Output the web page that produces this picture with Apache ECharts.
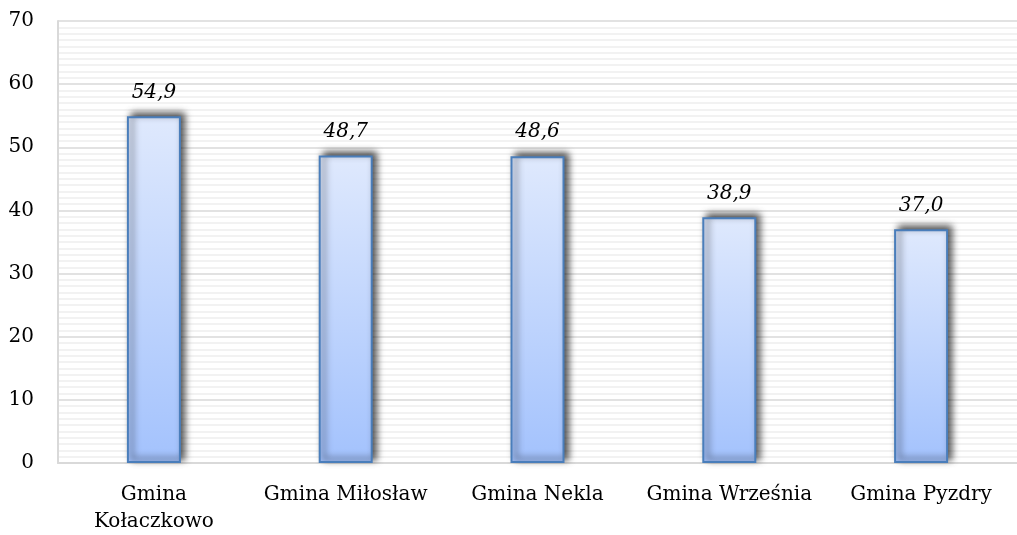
<!DOCTYPE html>
<html>
<head>
<meta charset="utf-8">
<script src="https://cdn.jsdelivr.net/npm/echarts@6/dist/echarts.min.js"></script>
<style>
html,body{margin:0;padding:0;background:#fff;}
#chart{width:1017px;height:535px;}
</style>
</head>
<body>
<div id="chart"></div>
<script>
const categories = ['Gmina\nKołaczkowo', 'Gmina Miłosław', 'Gmina Nekla', 'Gmina Września', 'Gmina Pyzdry'];
const values = [54.9, 48.7, 48.6, 38.9, 37.0];
const yTicks = [0, 10, 20, 30, 40, 50, 60, 70];

const chart = echarts.init(document.getElementById('chart'), null, {renderer: 'canvas'});
const FONT = 'DejaVu Serif';
chart.setOption({
  animation: false,
  backgroundColor: '#ffffff',
  grid: {left: 58, right: -12, top: 21, bottom: 69, containLabel: false},
  xAxis: {
    type: 'category',
    data: categories,
    axisLine: {show: true, lineStyle: {color: '#d9d9d9', width: 2}},
    axisTick: {show: false},
    axisLabel: {fontFamily: FONT, fontSize: 20, color: '#000', margin: 18, lineHeight: 27, interval: 0}
  },
  yAxis: {
    type: 'value',
    min: yTicks[0],
    max: yTicks[yTicks.length - 1],
    interval: 10,
    axisLine: {show: true, lineStyle: {color: '#d9d9d9', width: 2}},
    axisTick: {show: false},
    axisLabel: {fontFamily: FONT, fontSize: 20, color: '#000', margin: 24},
    splitLine: {show: true, lineStyle: {color: '#d9d9d9', width: 1.5}},
    minorTick: {show: false, splitNumber: 10},
    minorSplitLine: {show: true, lineStyle: {color: '#eeeeee', width: 1.5}}
  },
  series: [{
    type: 'bar',
    data: values,
    barWidth: 54,
    itemStyle: {
      color: new echarts.graphic.LinearGradient(0, 0, 0, 1, [
        {offset: 0, color: '#dfe9fd'},
        {offset: 1, color: '#a3c2fd'}
      ]),
      borderColor: '#4a7ebb',
      borderWidth: 2,
      shadowColor: 'rgba(0,0,0,0.7)',
      shadowBlur: 7,
      shadowOffsetX: 4,
      shadowOffsetY: -3
    },
    label: {
      show: true,
      position: 'top',
      distance: 14,
      fontFamily: FONT,
      fontStyle: 'italic',
      fontSize: 20,
      color: '#000',
      formatter: p => p.value.toFixed(1).replace('.', ',')
    }
  }]
});
</script>
</body>
</html>
